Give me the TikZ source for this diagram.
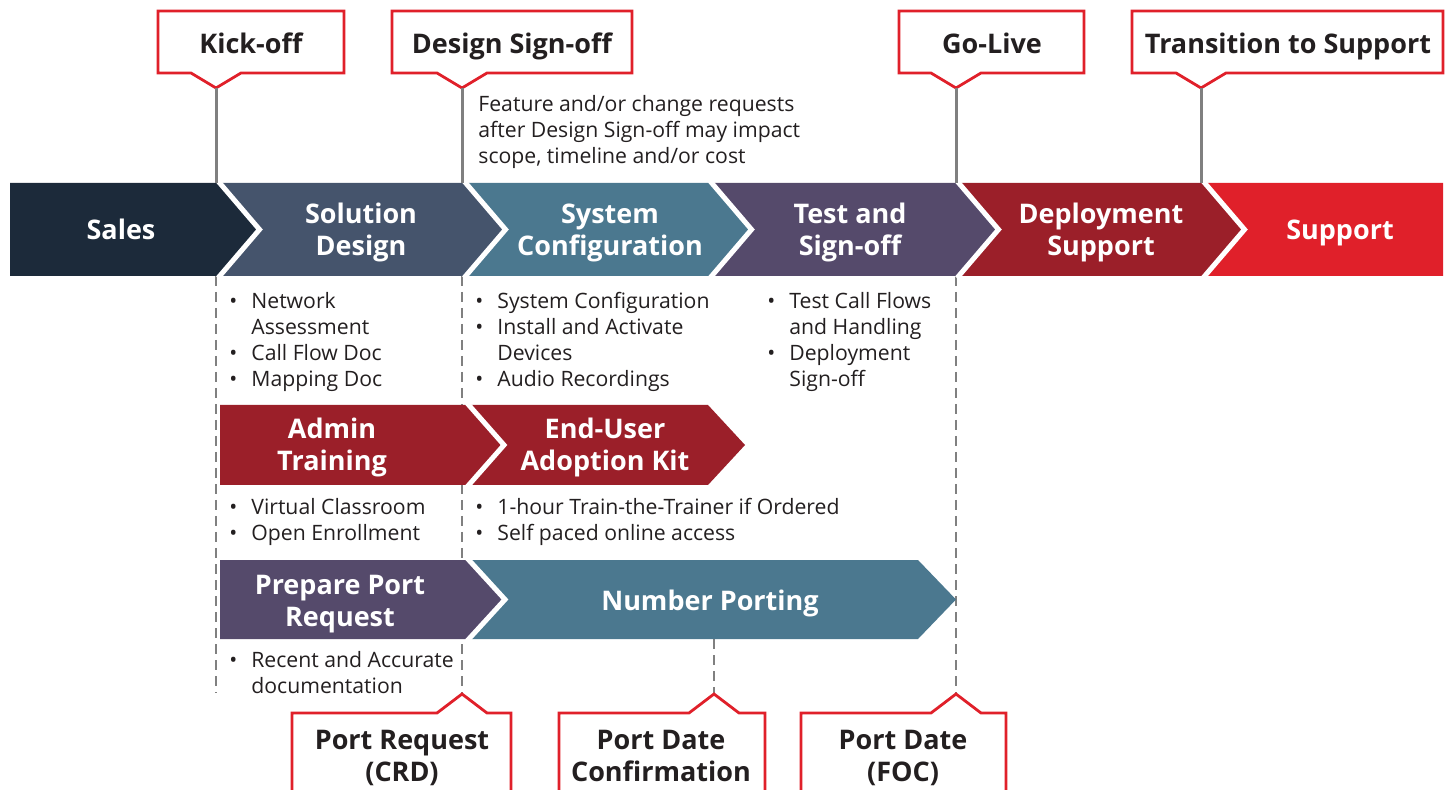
\documentclass[tikz,border=0pt]{standalone}
\usepackage{fontspec}
\setmainfont{Open Sans}
\usetikzlibrary{positioning}

\definecolor{navy}{HTML}{1C2A3A}
\definecolor{slate}{HTML}{45546C}
\definecolor{teal}{HTML}{4B788F}
\definecolor{plum}{HTML}{554A6B}
\definecolor{wine}{HTML}{9B1F29}
\definecolor{brightred}{HTML}{E0202A}
\definecolor{ink}{HTML}{231F20}
\definecolor{rulegray}{HTML}{808080}

\newcommand{\itm}{\makebox[11pt][l]{\textbullet}}
\newcommand{\cont}{\hspace*{11pt}}

\tikzset{
  phase/.style={text=white, font=\bfseries\fontsize{13.5}{16}\selectfont, align=center, inner sep=0pt, text height=10pt, text depth=0pt},
  milestone/.style={text=ink, font=\bfseries\fontsize{13.5}{16}\selectfont, align=center, inner sep=0pt, text height=10pt, text depth=0pt},
  twoline/.style={text height=26pt},
  flag/.style={draw=brightred, line width=1.4pt, fill=white, line join=miter},
  notes/.style={text=ink, font=\fontsize{10.6}{13}\selectfont, align=left, anchor=north west, inner sep=0pt},
  link/.style={draw=rulegray, line width=1.5pt},
  guide/.style={draw=rulegray, line width=1pt, dash pattern=on 5pt off 3pt},
  gap/.style={draw=white, line width=2.5pt}
}

\begin{document}
\begin{tikzpicture}[x=0.5pt, y=-0.5pt]
\useasboundingbox (0,0) rectangle (1450,790);
\clip (0,0) rectangle (1450,790);

\coordinate (bandtop) at (0,183);
\coordinate (bandbot) at (0,276);
\coordinate (kickpin) at (216,88);
\coordinate (signpin) at (462,88);
\coordinate (livepin) at (956,88);
\coordinate (handpin) at (1201,88);
\coordinate (crdpin) at (462,694);
\coordinate (confpin) at (714,694);
\coordinate (focpin) at (956,694);
\coordinate (kickend) at (216,693);

% guides under the phases
\draw[guide] (kickpin |- bandbot) -- (kickend);
\draw[guide] (signpin |- bandbot) -- (crdpin);
\draw[guide] (livepin |- bandbot) -- (focpin);
\draw[guide] (714,639) -- (confpin);

% main phases
\fill[navy] (10,183) -- (218,183) -- (259.5,229.5) -- (218,276) -- (10,276) -- cycle;
\fill[slate] (218,183) -- (464,183) -- (505.5,229.5) -- (464,276) -- (218,276) -- (259.5,229.5) -- cycle;
\fill[teal] (464,183) -- (710,183) -- (751.5,229.5) -- (710,276) -- (464,276) -- (505.5,229.5) -- cycle;
\fill[plum] (710,183) -- (957,183) -- (998.5,229.5) -- (957,276) -- (710,276) -- (751.5,229.5) -- cycle;
\fill[wine] (957,183) -- (1203,183) -- (1244.5,229.5) -- (1203,276) -- (957,276) -- (998.5,229.5) -- cycle;
\fill[brightred] (1203,183) -- (1443,183) -- (1443,276) -- (1203,276) -- (1244.5,229.5) -- cycle;
\foreach \x in {218,464,710,957,1203}
  \draw[gap] (\x,181) -- (\x+41.5,229.5) -- (\x,278);

\node[phase] (sales) at (121,230) {Sales};
\node[phase, twoline] (design) at (361,230) {Solution\\Design};
\node[phase, twoline] (config) at (610,230) {System\\Configuration};
\node[phase, twoline] (test) at (850,230) {Test and\\Sign-off};
\node[phase, twoline] (deploy) at (1101,230) {Deployment\\Support};
\node[phase] (support) at (1340,230) {Support};

% training row
\fill[wine] (220,405) -- (467,405) -- (504,445) -- (467,485) -- (220,485) -- cycle;
\fill[wine] (467,405) -- (708,405) -- (745,445) -- (708,485) -- (467,485) -- (504,445) -- cycle;
\draw[gap] (467,403) -- (504,445) -- (467,487);
\node[phase, twoline] (admin) at (332,445) {Admin\\Training};
\node[phase, twoline] (kit) at (605,445) {End-User\\Adoption Kit};

% porting row
\fill[plum] (220,560) -- (467,560) -- (505,599.5) -- (467,639) -- (220,639) -- cycle;
\fill[teal] (467,560) -- (918,560) -- (956,599.5) -- (918,639) -- (467,639) -- (505,599.5) -- cycle;
\draw[gap] (467,558) -- (505,599.5) -- (467,641);
\node[phase, twoline] (prep) at (340,600) {Prepare Port\\Request};
\node[phase] (porting) at (710,600) {Number Porting};

% milestones on top
\draw[flag] (158,11) -- (344,11) -- (344,73) -- (241,73) -- (kickpin) -- (191,73) -- (158,73) -- cycle;
\draw[flag] (392,11) -- (632,11) -- (632,73) -- (487,73) -- (signpin) -- (437,73) -- (392,73) -- cycle;
\draw[flag] (899,11) -- (1084,11) -- (1084,73) -- (981,73) -- (livepin) -- (931,73) -- (899,73) -- cycle;
\draw[flag] (1132,11) -- (1443,11) -- (1443,73) -- (1226,73) -- (handpin) -- (1176,73) -- (1132,73) -- cycle;
\node[milestone] (kick) at (251,44) {Kick-off};
\node[milestone] (signoff) at (512,44) {Design Sign-off};
\node[milestone] (golive) at (992,44) {Go-Live};
\node[milestone] (handover) at (1288,44) {Transition to Support};
\draw[link] (kickpin) -- (kickpin |- bandtop);
\draw[link] (signpin) -- (signpin |- bandtop);
\draw[link] (livepin) -- (livepin |- bandtop);
\draw[link] (handpin) -- (handpin |- bandtop);

% milestones at the bottom
\draw[flag] (292,800) -- (292,713) -- (437,713) -- (crdpin) -- (487,713) -- (511,713) -- (511,800);
\draw[flag] (559,800) -- (559,713) -- (689,713) -- (confpin) -- (739,713) -- (765,713) -- (765,800);
\draw[flag] (801,800) -- (801,713) -- (931,713) -- (focpin) -- (981,713) -- (1006,713) -- (1006,800);
\node[milestone, twoline] (crd) at (402,755) {Port Request\\(CRD)};
\node[milestone, twoline] (confirm) at (661,755) {Port Date\\Confirmation};
\node[milestone, twoline] (foc) at (903,755) {Port Date\\(FOC)};

% notes
\node[notes] (scope) at (478,95) {Feature and/or change requests\\after Design Sign-off may impact\\scope, timeline and/or cost};
\node[notes] (designitems) at (229,292) {\itm Network\\\cont Assessment\\\itm Call Flow Doc\\\itm Mapping Doc};
\node[notes] (configitems) at (475,292) {\itm System Configuration\\\itm Install and Activate\\\cont Devices\\\itm Audio Recordings};
\node[notes] (testitems) at (767,292) {\itm Test Call Flows\\\cont and Handling\\\itm Deployment\\\cont Sign-off};
\node[notes] (adminitems) at (229,498) {\itm Virtual Classroom\\\itm Open Enrollment};
\node[notes] (kititems) at (475,498) {\itm 1-hour Train-the-Trainer if Ordered\\\itm Self paced online access};
\node[notes] (prepitems) at (229,651) {\itm Recent and Accurate\\\cont documentation};
\end{tikzpicture}
\end{document}
